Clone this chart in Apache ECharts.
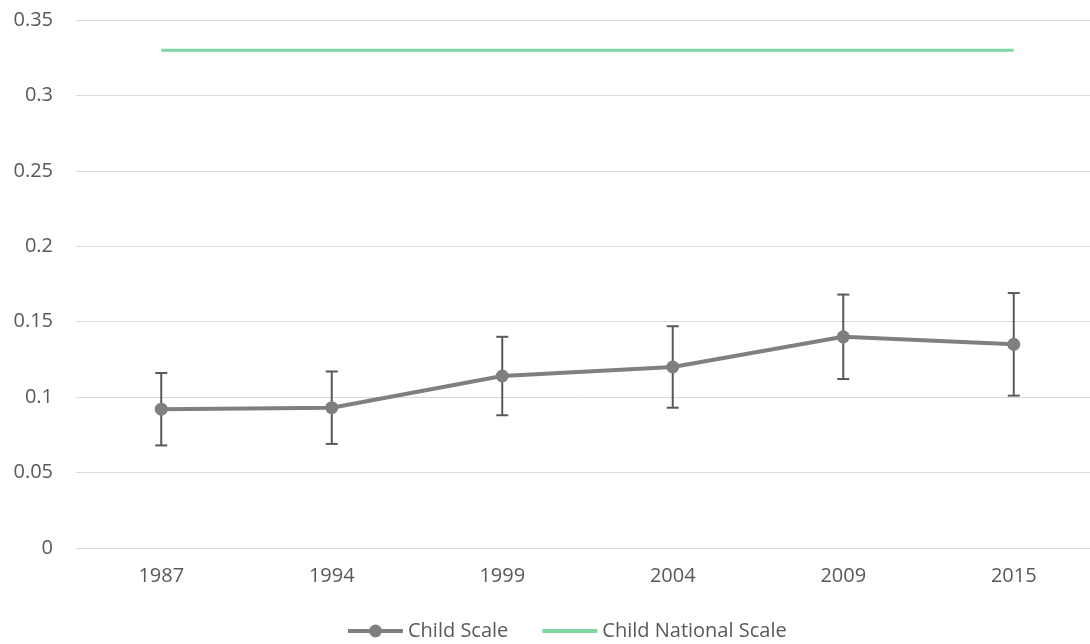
<!DOCTYPE html>
<html><head><meta charset="utf-8">
<script src="https://cdn.jsdelivr.net/npm/echarts@6/dist/echarts.min.js"></script>
<style>html,body{margin:0;padding:0;background:#fff}#c{width:1090px;height:644px}</style>
</head><body><div id="c"></div>
<script>
const years = ['1987','1994','1999','2004','2009','2015'];
const childScale = [0.092, 0.093, 0.114, 0.120, 0.140, 0.135];
const errLow = [0.068, 0.069, 0.088, 0.093, 0.112, 0.101];
const errHigh = [0.116, 0.117, 0.140, 0.147, 0.168, 0.169];
const nationalScale = [0.33, 0.33, 0.33, 0.33, 0.33, 0.33];
const yTicks = [0, 0.05, 0.1, 0.15, 0.2, 0.25, 0.3, 0.35];

const font = '"Open Sans", "Noto Sans", sans-serif';
const chart = echarts.init(document.getElementById('c'));
chart.setOption({
  animation: false,
  textStyle: { fontFamily: font },
  grid: { left: 76, width: 1023, top: 20, height: 528, containLabel: false, outerBoundsMode: 'none' },
  legend: {
    left: 341, top: 616, itemGap: 32, itemWidth: 55, itemHeight: 16,
    textStyle: { fontSize: 20, color: '#595959', fontFamily: font },
    data: [
      { name: 'Child Scale', lineStyle: { width: 4 } },
      { name: 'Child National Scale', lineStyle: { width: 4 }, itemStyle: { opacity: 0 } }
    ]
  },
  xAxis: {
    type: 'category', data: years, boundaryGap: true,
    axisLine: { show: true, lineStyle: { color: '#d9d9d9', width: 1 } },
    axisTick: { show: false },
    axisLabel: { fontSize: 20, color: '#595959', margin: 18, fontFamily: font }
  },
  yAxis: {
    type: 'value', min: 0, max: 0.35, interval: 0.05,
    axisLine: { show: false }, axisTick: { show: false },
    splitLine: { lineStyle: { color: '#d9d9d9', width: 1 } },
    axisLabel: { fontSize: 20, color: '#595959', margin: 23, fontFamily: font,
      formatter: v => { const t = yTicks.find(x => Math.abs(x - v) < 1e-9); return t === undefined ? '' : String(+t.toFixed(2)); } }
  },
  series: [
    {
      name: 'Child Scale', type: 'line', data: childScale,
      symbol: 'circle', symbolSize: 13,
      lineStyle: { color: '#7f7f7f', width: 4 }, itemStyle: { color: '#7f7f7f' }, z: 4
    },
    {
      name: 'Child National Scale', type: 'line', data: nationalScale,
      symbol: 'none', showSymbol: false,
      lineStyle: { color: '#7fd6a4', width: 3 }, itemStyle: { color: '#7fd6a4' }, z: 2
    },
    {
      name: 'err', type: 'custom', z: 3,
      data: years.map((y, i) => [i, errLow[i], errHigh[i]]),
      renderItem: function (params, api) {
        const lo = api.coord([api.value(0), api.value(1)]);
        const hi = api.coord([api.value(0), api.value(2)]);
        const hw = 6;
        const st = { stroke: '#595959', lineWidth: 2, fill: null };
        return { type: 'group', children: [
          { type: 'line', shape: { x1: lo[0], y1: lo[1], x2: hi[0], y2: hi[1] }, style: st },
          { type: 'line', shape: { x1: lo[0]-hw, y1: lo[1], x2: lo[0]+hw, y2: lo[1] }, style: st },
          { type: 'line', shape: { x1: hi[0]-hw, y1: hi[1], x2: hi[0]+hw, y2: hi[1] }, style: st }
        ]};
      }
    }
  ]
});
</script></body></html>
